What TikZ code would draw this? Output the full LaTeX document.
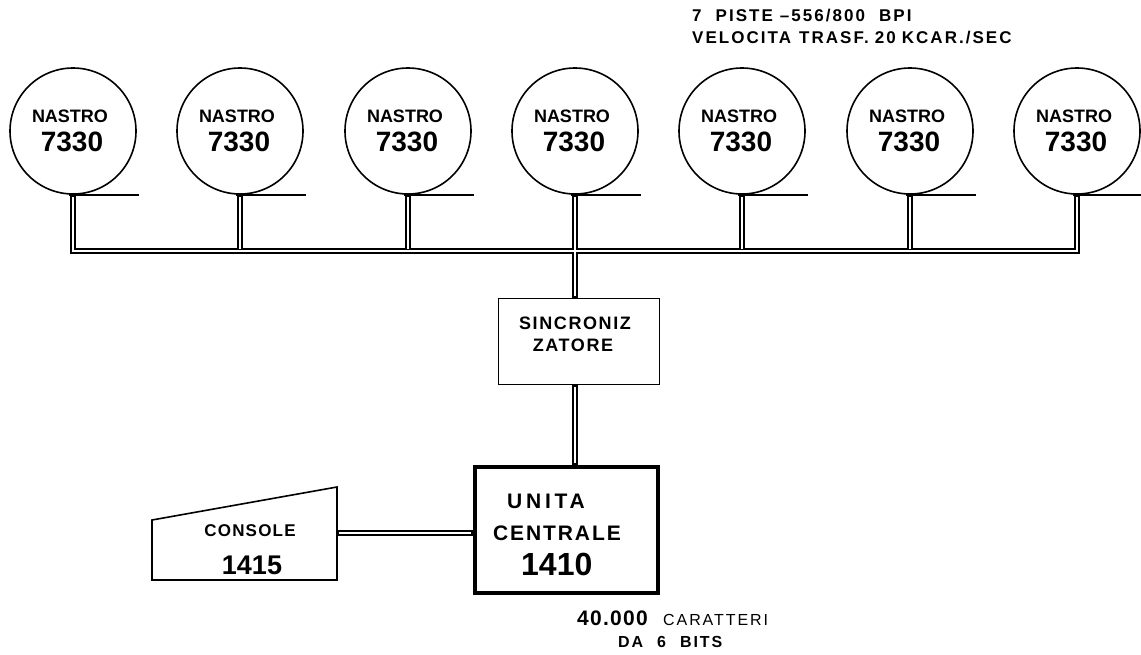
\documentclass[tikz,border=0pt]{standalone}
\usepackage{fontspec}
\setmainfont{Liberation Sans}
\usetikzlibrary{calc}
\begin{document}
\begin{tikzpicture}[x=1pt,y=-1pt,
  tape/.style={circle, draw, line width=1.6pt, minimum size=126pt, inner sep=0pt},
  boxst/.style={draw, line width=1.5pt, inner sep=0pt},
  netout/.style={line width=5.6pt},
  netin/.style={white, line width=2.4pt, shorten <=2pt, shorten >=2pt},
  tname/.style={anchor=base, inner sep=0pt, font=\bfseries\fontsize{18}{18}\selectfont},
  tnum/.style={anchor=base, inner sep=0pt, font=\bfseries\fontsize{28}{28}\selectfont},
  spec/.style={anchor=base west, inner sep=0pt, font=\bfseries\fontsize{17}{17}\selectfont\addfontfeature{LetterSpace=12}},
  cpulab/.style={anchor=base west, inner sep=0pt, font=\bfseries\fontsize{21}{21}\selectfont\addfontfeature{LetterSpace=9}},
]
\useasboundingbox (0,0) rectangle (1141,654);

% tape units
\foreach \i/\x in {1/73,2/240,3/408,4/575,5/742,6/910,7/1077}{
  \node[tape] (t\i) at (\x,131) {};
  \node[tname] (n\i) at (\x-3,122) {NASTRO};
  \node[tnum] (m\i) at (\x-1,151) {7330};
  \coordinate (e\i) at ($(t\i.south)+(66pt,0pt)$);
}
\coordinate (bus) at (0,251);

% synchronizer and central unit
\node[boxst, minimum width=161pt, minimum height=86pt] (sync) at (579,341.5) {};
\node[inner sep=0pt, anchor=base, font=\bfseries\fontsize{18}{18}\selectfont\addfontfeature{LetterSpace=9}] (s1) at (575,329) {SINCRONIZ};
\node[inner sep=0pt, anchor=base, font=\bfseries\fontsize{18}{18}\selectfont\addfontfeature{LetterSpace=9}] (s2) at (573,351) {ZATORE};

\node[draw, line width=4pt, inner sep=0pt, minimum width=183pt, minimum height=126pt] (cpu) at (566.5,530) {};
\node[cpulab, font=\bfseries\fontsize{21}{21}\selectfont\addfontfeature{LetterSpace=18}] (u1) at (507,508) {UNITA};
\node[cpulab] (u2) at (493,540) {CENTRALE};
\node[anchor=base west, inner sep=0pt, font=\bfseries\fontsize{32}{32}\selectfont] (u3) at (521,575) {1410};

% console
\coordinate (k1) at (152,580);
\coordinate (k2) at (152,520);
\coordinate (k3) at (337,487);
\coordinate (k4) at (337,580);
\coordinate (conR) at (337,533);
\draw[line width=1.6pt, line join=miter] (k1) -- (k2) -- (k3) -- (k4) -- cycle;
\node[inner sep=0pt, anchor=base, font=\bfseries\fontsize{17}{17}\selectfont\addfontfeature{LetterSpace=7}] (c1) at (250,536) {CONSOLE};
\node[inner sep=0pt, anchor=base, font=\bfseries\fontsize{27}{27}\selectfont] (c2) at (252,574) {1415};

% double-line connections
\foreach \st in {netout,netin}{
  \draw[\st] (t1.south) -- (t1.south |- bus) -- (t7.south |- bus) -- (t7.south);
  \foreach \j in {2,3,5,6}{
    \draw[\st] (t\j.south) -- (t\j.south |- bus);
  }
  \draw[\st] (t4.south) -- (t4.south |- sync.north);
  \draw[\st] (t4.south |- sync.south) -- (t4.south |- cpu.north);
  \draw[\st] (conR) -- (conR -| cpu.west);
}
% tape tangent lines
\foreach \i in {1,...,7}{
  \draw[line width=1.6pt] ($(t\i.south)+(-4pt,0pt)$) -- (e\i);
}

% annotations
\node[spec] (p1) at (692,21) {7\hspace{14pt}PISTE\hspace{7pt}–556/800\hspace{14pt}BPI};
\node[spec] (p2) at (692,43) {VELOCITA\hspace{8pt}TRASF.\hspace{6pt}20\hspace{6pt}KCAR./SEC};

\node[anchor=base west, inner sep=0pt, font=\bfseries\fontsize{21}{21}\selectfont\addfontfeature{LetterSpace=6}] (b1) at (577,625) {40.000};
\node[anchor=base west, inner sep=0pt, font=\fontsize{16}{16}\selectfont\addfontfeature{LetterSpace=12}] (b2) at (663,625) {CARATTERI};
\node[anchor=base west, inner sep=0pt, font=\bfseries\fontsize{16}{16}\selectfont\addfontfeature{LetterSpace=12}] (b3) at (618,647) {DA\hspace{14pt}6\hspace{14pt}BITS};
\end{tikzpicture}
\end{document}
